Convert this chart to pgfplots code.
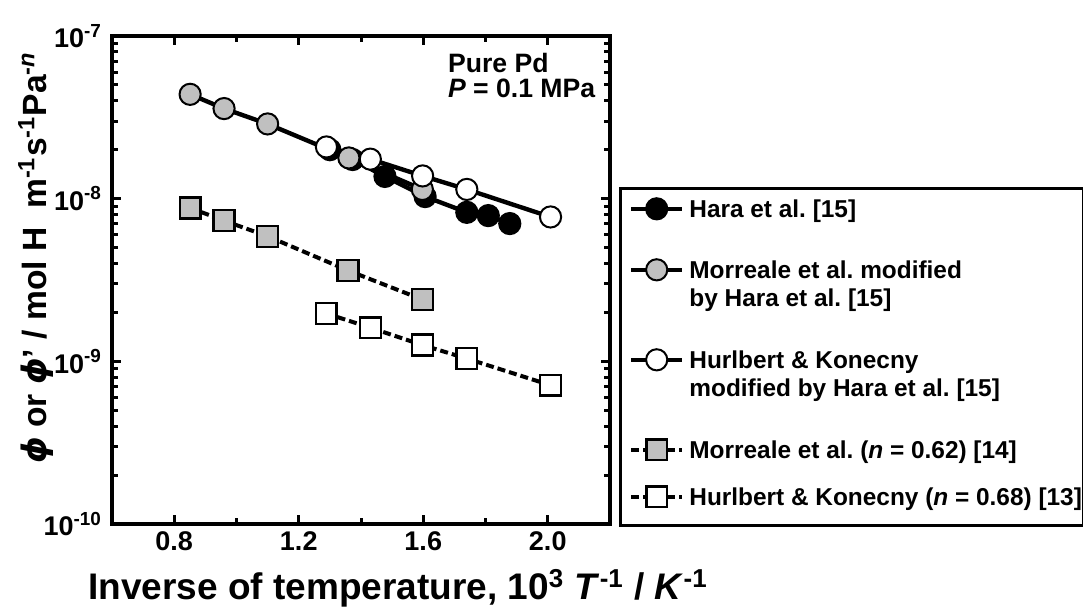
\documentclass[border=0pt]{standalone}
\usepackage{pgfplots}
\pgfplotsset{compat=1.18}
\usepackage{fontspec}
\setmainfont{Liberation Sans}
\newfontfamily\phifont{DejaVu Sans}
\definecolor{mygrey}{HTML}{C0C0C0}
\frenchspacing
\begin{document}
\begin{tikzpicture}
\begin{axis}[
  at={(56pt,42pt)}, anchor=south west,
  scale only axis, width=249pt, height=244pt,
  xmin=0.6, xmax=2.2, ymode=log, ymin=1e-10, ymax=1e-7,
  xtick={0.8,1.2,1.6,2.0}, xticklabels={0.8,1.2,1.6,2.0},
  minor xtick={1.0,1.4,1.8},
  ytick={1e-10,1e-9,1e-8,1e-7},
  yticklabels={10\textsuperscript{-10},10\textsuperscript{-9},10\textsuperscript{-8},10\textsuperscript{-7}},
  minor ytick={2e-10,3e-10,4e-10,5e-10,6e-10,7e-10,8e-10,9e-10,2e-9,3e-9,4e-9,5e-9,6e-9,7e-9,8e-9,9e-9,2e-8,3e-8,4e-8,5e-8,6e-8,7e-8,8e-8,9e-8},
  axis line style={line width=2pt},
  tick align=inside,
  major tick length=4.5pt, minor tick length=3pt,
  every tick/.style={black, line width=1.5pt},
  ticklabel style={font=\bfseries\fontsize{13.5}{16}\selectfont},
  yticklabel style={xshift=-1.5pt},
  xticklabel style={yshift=-0.5pt},
  clip=false,
  legend style={at={(1.0201,0.6885)}, anchor=north west, draw=black, line width=1.5pt,
    inner xsep=4.5pt, inner ysep=0pt, outer sep=0pt, column sep=2.5pt,
    cells={anchor=base west},
    nodes={inner sep=0pt, text depth=, font=\bfseries\fontsize{12.2}{14}\selectfont}},
  legend image code/.code={\draw[mark repeat=2,mark phase=2,#1] plot coordinates {(0pt,4.4pt) (12.75pt,4.4pt) (25.5pt,4.4pt)};},
]
\addplot[black, line width=2.2pt, mark=*, mark size=5.3pt, mark options={solid, fill=black, draw=black, line width=1pt}] coordinates {
 (1.30,2.0e-8) (1.373,1.74e-8) (1.477,1.37e-8) (1.606,1.03e-8) (1.74,8.24e-9) (1.809,7.87e-9) (1.878,7.03e-9)};
\addlegendentry{\raisebox{0pt}[14.8pt][18.5pt]{Hara et al. [15]}}
\addplot[black, line width=2.2pt, mark=*, mark size=5.3pt, mark options={solid, fill=mygrey, draw=black, line width=1pt}] coordinates {
 (0.851,4.38e-8) (0.96,3.58e-8) (1.10,2.88e-8) (1.361,1.78e-8) (1.597,1.14e-8)};
\addlegendentry{\raisebox{0pt}[12pt][33pt]{\begin{tabular}[t]{@{}l@{}}Morreale et al. modified\\by Hara et al. [15]\end{tabular}}}
\addplot[black, line width=2.2pt, mark=*, mark size=5.3pt, mark options={solid, fill=white, draw=black, line width=1pt}] coordinates {
 (1.289,2.08e-8) (1.43,1.75e-8) (1.598,1.38e-8) (1.74,1.14e-8) (2.009,7.72e-9)};
\addlegendentry{\raisebox{0pt}[12pt][33pt]{\begin{tabular}[t]{@{}l@{}}Hurlbert \& Konecny\\modified by Hara et al. [15]\end{tabular}}}
\addplot[black, line width=2pt, dash pattern=on 4pt off 2pt, mark=square*, mark size=5.2pt, mark options={solid, fill=mygrey, draw=black, line width=1.2pt}] coordinates {
 (0.851,8.77e-9) (0.96,7.33e-9) (1.10,5.87e-9) (1.358,3.62e-9) (1.597,2.40e-9)};
\addlegendentry{\raisebox{0pt}[12pt][11.5pt]{Morreale et al. (\textit{n} = 0.62) [14]}}
\addplot[black, line width=2pt, dash pattern=on 4pt off 2pt, mark=square*, mark size=5.2pt, mark options={solid, fill=white, draw=black, line width=1.2pt}] coordinates {
 (1.288,1.97e-9) (1.43,1.61e-9) (1.597,1.26e-9) (1.74,1.04e-9) (2.009,7.13e-10)};
\addlegendentry{\raisebox{0pt}[12pt][9.7pt]{Hurlbert \& Konecny (\textit{n} = 0.68) [13]\hspace*{-3.5pt}}}
\node[anchor=base west, font=\bfseries\fontsize{13.3}{16}\selectfont] at (rel axis cs:0.6606,0.9262) {Pure Pd};
\node[anchor=base west, font=\bfseries\fontsize{13.3}{16}\selectfont] at (rel axis cs:0.6606,0.873) {\textit{P} = 0.1 MPa};
\end{axis}
\node[anchor=base, font=\bfseries\fontsize{18.5}{22}\selectfont] at (199pt,4pt)
  {Inverse of temperature, 10\textsuperscript{3} \textit{T}\textsuperscript{-1} / \textit{K}\textsuperscript{-1}};
\node[rotate=90, anchor=center, font=\bfseries\fontsize{16.8}{20}\selectfont] at (18pt,175pt)
  {{\phifont\bfseries\itshape ϕ} or {\phifont\bfseries\itshape ϕ}' / mol H\ \ m\textsuperscript{-1}s\textsuperscript{-1}Pa\textsuperscript{-\textit{n}}};
\pgfresetboundingbox
\path[use as bounding box] (0pt,0pt) rectangle (541.5pt,304pt);
\end{tikzpicture}
\end{document}
